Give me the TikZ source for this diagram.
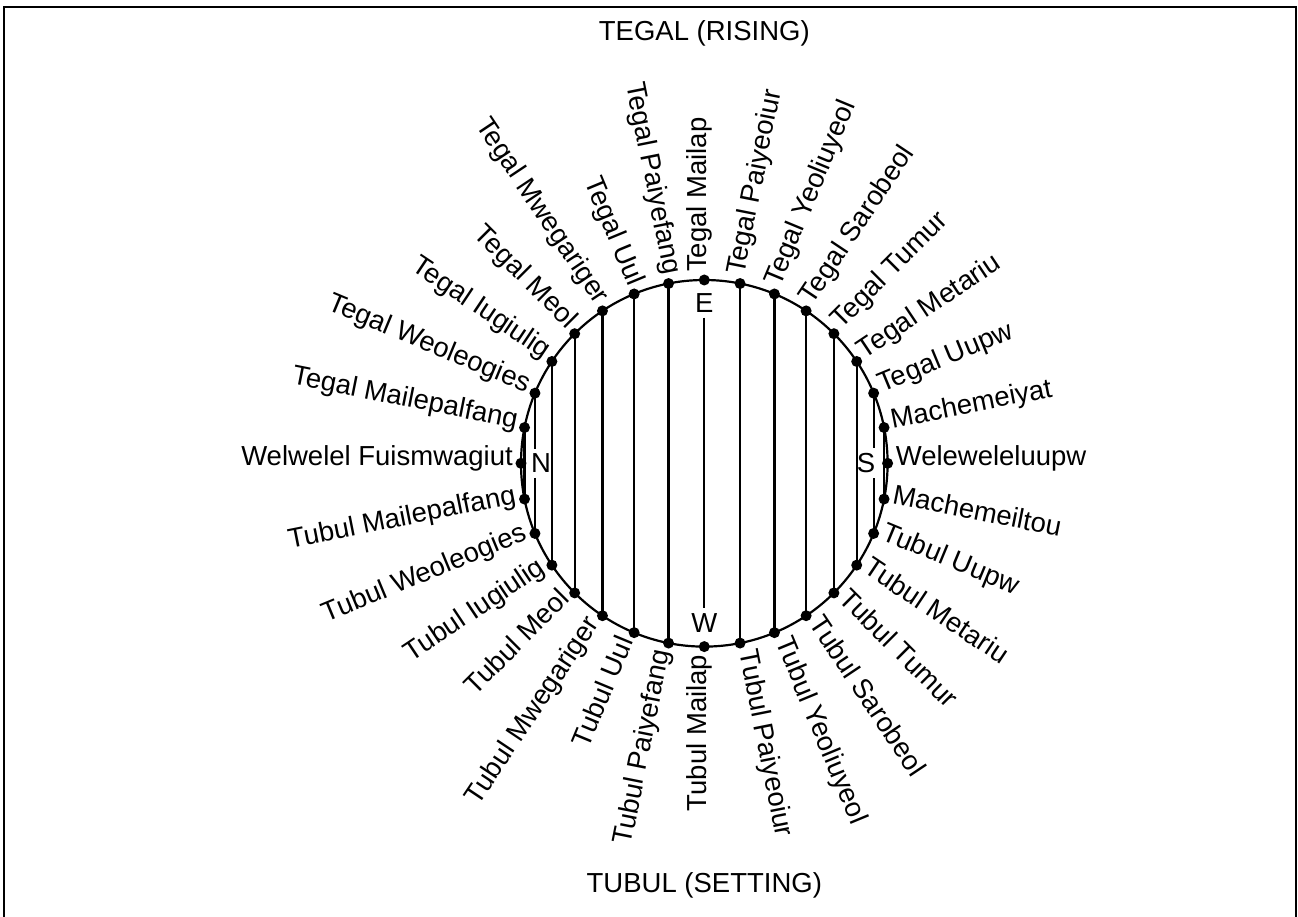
\documentclass[tikz,border=0pt]{standalone}
\usepackage{fontspec}
\setmainfont{Liberation Sans}
\usetikzlibrary{calc}

\tikzset{
  stardot/.style={circle,fill=black,inner sep=0pt,minimum size=11pt},
  starname/.style={inner sep=0pt,font=\fontsize{27.5}{32}\selectfont},
  cardinal/.style={starname,inner ysep=5pt},
  chord/.style={line width=2.2pt},
}

\begin{document}
\begin{tikzpicture}[x=1pt,y=1pt]
\useasboundingbox (-704.3,-452.7) rectangle (593.7,463.3);

% frame, bottom edge runs off the page
\draw[line width=2.2pt] (-700.3,-470) -- (-700.3,456.3) -- (591.7,456.3) -- (591.7,-470);

\node[starname] (rise) at (0,430) {TEGAL (RISING)};
\node[starname] (set) at (0,-421.7) {TUBUL (SETTING)};

\draw[line width=2.2pt] (0,0) circle (183.3);

% 32 points of the star compass
\foreach \i in {0,...,31}
\node[stardot] (d\i) at (\i*11.25:183.3) {};

% east half, text reads outwards
\foreach \i/\name in {0/Weleweleluupw, 1/Machemeiyat, 2/Tegal Uupw, 3/Tegal Metariu,
  4/Tegal Tumur, 5/Tegal Sarobeol, 6/Tegal Yeoliuyeol, 7/Tegal Paiyeoiur, 8/Tegal Mailap,
  25/Tubul Paiyeoiur, 26/Tubul Yeoliuyeol, 27/Tubul Sarobeol, 28/Tubul Tumur,
  29/Tubul Metariu, 30/Tubul Uupw, 31/Machemeiltou}
\node[starname,anchor=mid west,rotate=\i*11.25] (n\i) at (\i*11.25:191.3) {\name};

% west half, text reads inwards
\foreach \i/\name in {9/Tegal Paiyefang, 10/Tegal Uul, 11/Tegal Mwegariger, 12/Tegal Meol,
  13/Tegal Iugiulig, 14/Tegal Weoleogies, 15/Tegal Mailepalfang, 16/Welwelel Fuismwagiut,
  17/Tubul Mailepalfang, 18/Tubul Weoleogies, 19/Tubul Iugiulig, 20/Tubul Meol,
  21/Tubul Mwegariger, 22/Tubul Uul, 23/Tubul Paiyefang, 24/Tubul Mailap}
\node[starname,anchor=mid east,rotate=\i*11.25-180] (n\i) at (\i*11.25:191.3) {\name};

% cardinal letters
\node[cardinal] (E) at (0,160.3) {E};
\node[cardinal] (W) at (0,-159.7) {W};
\node[cardinal] (N) at (-163.3,0) {N};
\node[cardinal] (S) at (161.7,0) {S};

% rising point to setting point of the same star
\foreach \i in {1,3,4,5,6,7,9,10,11,12,13,15} {
  \pgfmathtruncatemacro\j{32-\i}
  \draw[chord] (d\i.center) -- (d\j.center);
}
% the two lines broken by N and S
\draw[chord] (d2.center) -- (d2.center |- S.north);
\draw[chord] (d2.center |- S.south) -- (d30.center);
\draw[chord] (d14.center) -- (d14.center |- N.north);
\draw[chord] (d14.center |- N.south) -- (d18.center);
\draw[chord] (E) -- (W);

\end{tikzpicture}
\end{document}
